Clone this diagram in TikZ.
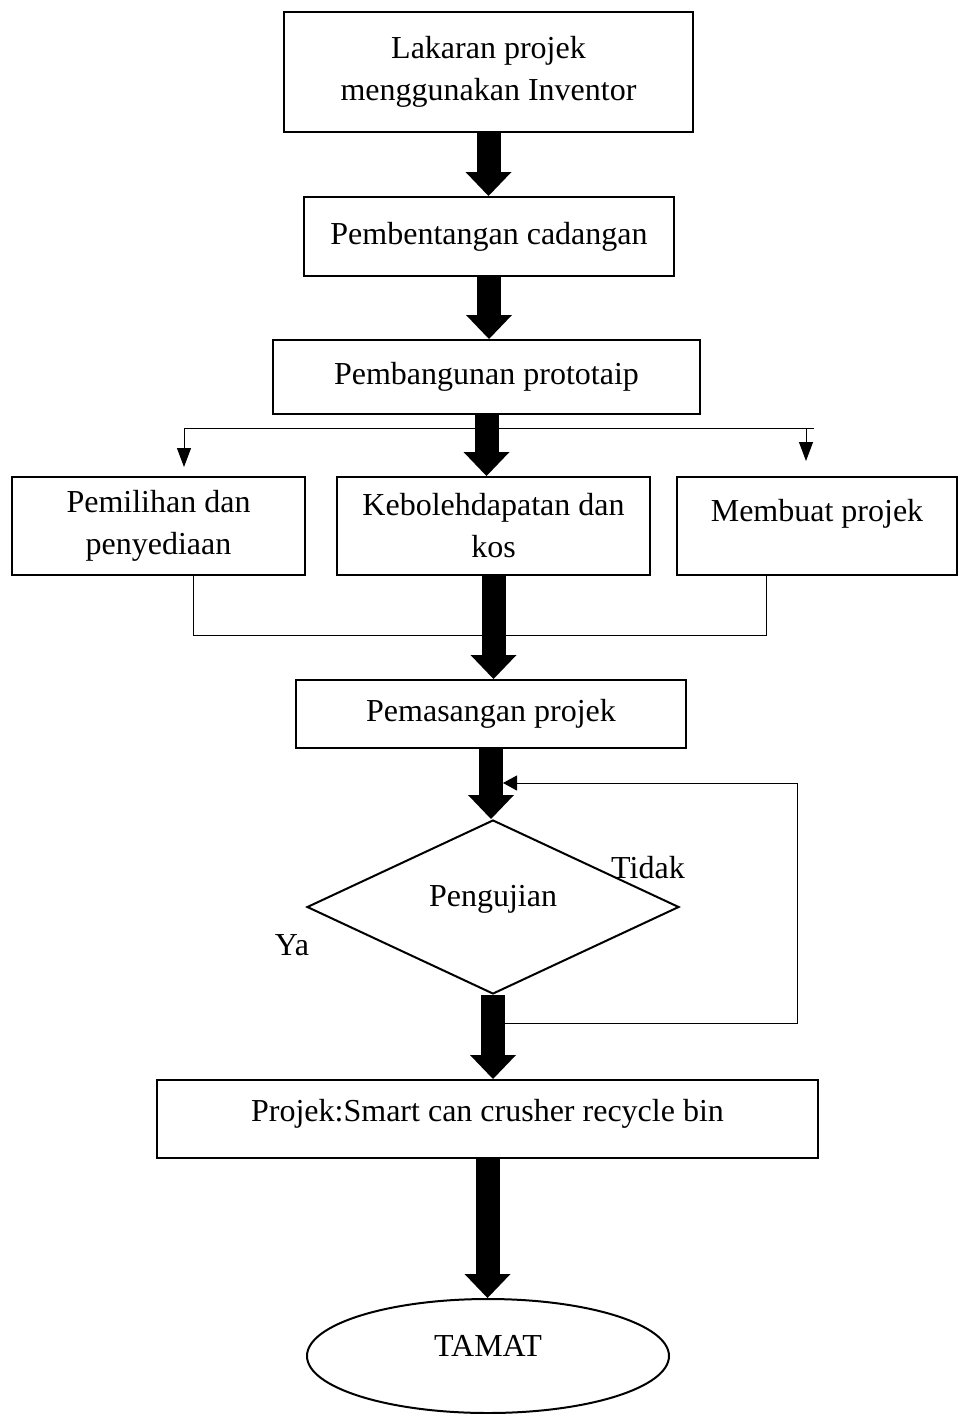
\documentclass[tikz,border=0pt]{standalone}
\usepackage{fontspec}
\setmainfont{Liberation Serif}
\usetikzlibrary{arrows.meta,shapes.geometric}

\begin{document}
\begin{tikzpicture}[x=0.5pt, y=-0.5pt,
    txt/.style={font=\fontsize{16}{21}\selectfont},
    box/.style={txt, draw, line width=1pt, align=center, inner sep=2pt},
    fatarrow/.style={line width=12pt, -{Triangle[width=23pt, length=12pt, line width=0pt]}},
    thinline/.style={line width=0.5pt},
    thinarrow/.style={thinline, -{Triangle[width=7pt, length=9.5pt]}}]

    % --- 画布范围 ---
    \useasboundingbox (0,0) rectangle (958,1414);

    % --- 主流程方框 ---
    \node[box, minimum width=204.5pt, minimum height=60pt] (sketch) at (488.5,72) {Lakaran projek\\menggunakan Inventor};
    \node[box, minimum width=185pt, minimum height=39.5pt] (propose) at (489,236.5) {Pembentangan cadangan};
    \node[box, minimum width=213.5pt, minimum height=37pt] (build) at (486.5,377) {Pembangunan prototaip};

    % 三个并列步骤
    \node[box, minimum width=146.5pt, minimum height=49pt] (choose) at (158.5,526) {Pemilihan dan\\penyediaan};
    \node[box, minimum width=156.5pt, minimum height=49pt] (cost) at (493.5,526) {Kebolehdapatan dan\\kos};
    \node[box, minimum width=140pt, minimum height=49pt, text depth=16pt] (make) at (817,526) {Membuat projek};

    \node[box, minimum width=195pt, minimum height=34pt] (assemble) at (491,714) {Pemasangan projek};

    % 判断 (菱形)
    \node[txt, draw, diamond, line width=1pt, aspect=2.14, inner sep=0pt, text depth=11.5pt,
          minimum width=186pt, minimum height=87pt] (test) at (493,907) {Pengujian};
    \node[txt] (no) at (648,868) {Tidak};
    \node[txt] (yes) at (292,945) {Ya};

    \node[box, minimum width=330.5pt, minimum height=39pt, text depth=8.5pt] (result) at (487.5,1119) {Projek:Smart can crusher recycle bin};
    \node[txt, draw, ellipse, line width=1pt, text depth=10pt,
          minimum width=181pt, minimum height=57pt] (finish) at (488,1356) {TAMAT};

    % --- 分支线 ---
    \coordinate (brL) at (184,428);
    \coordinate (brM) at (806,428);
    \coordinate (brR) at (814,428);
    \draw[thinline] (brL) -- (brR);
    \draw[thinarrow, shorten >=4.5pt] (brL) -- (brL |- choose.north);
    \draw[thinarrow, shorten >=7.5pt] (brM) -- (brM |- make.north);

    % --- 汇合线 ---
    \coordinate (mgL) at (193,635);
    \coordinate (mgR) at (766,635);
    \draw[thinline] (choose.south -| mgL) -- (mgL) -- (mgR) -- (make.south -| mgR);

    % --- 粗箭头 ---
    \draw[fatarrow] (sketch.south) -- (sketch.south |- propose.north);
    \draw[fatarrow] (propose.south) -- (propose.south |- build.north);
    \draw[fatarrow] (build.south) -- (build.south |- cost.north);
    \draw[fatarrow] (cost.south) -- (cost.south |- assemble.north);
    \draw[fatarrow] (assemble.south) -- (assemble.south |- test.north);
    \draw[fatarrow] (test.south) -- (test.south |- result.north);
    \draw[fatarrow] (result.south) -- (result.south |- finish.north);

    % --- 回路 (Tidak) ---
    \coordinate (lpS) at (505,1023);
    \coordinate (lpA) at (797,1023);
    \coordinate (lpB) at (797,783);
    \coordinate (lpE) at (503,783);
    \draw[thinline, -{Triangle[width=7.5pt, length=7pt]}] (lpS) -- (lpA) -- (lpB) -- (lpE);

\end{tikzpicture}
\end{document}
